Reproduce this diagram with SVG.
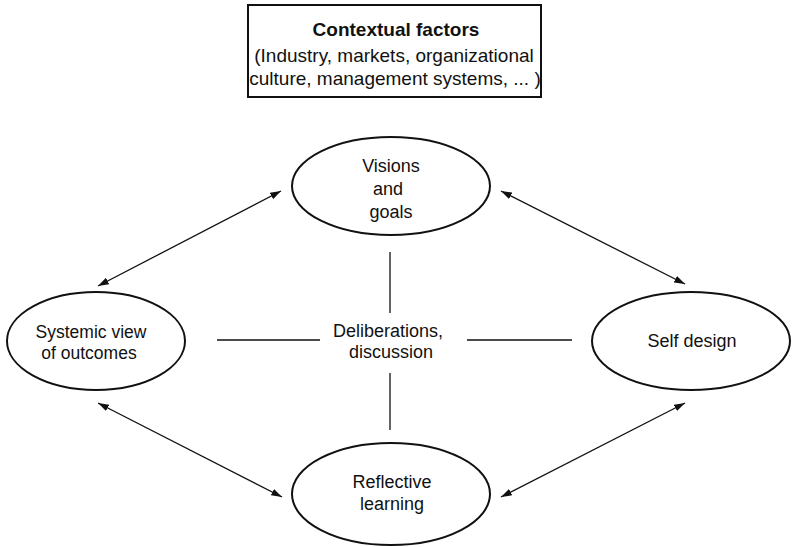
<svg xmlns="http://www.w3.org/2000/svg" width="792" height="547" viewBox="0 0 792 547">
<style>
text{font-family:"Liberation Sans",Arial,sans-serif;font-size:18px;fill:#111;text-anchor:middle}
.b{font-weight:bold}
.h{font-size:19px}
.node ellipse,.node rect{fill:#fff;stroke:#111;stroke-width:2}
.c line{stroke:#111;stroke-width:1.3}
</style>
<defs>
<marker id="ah" viewBox="0 0 12 10" refX="12" refY="5" markerWidth="11" markerHeight="9" markerUnits="userSpaceOnUse" orient="auto-start-reverse">
<path d="M0,1 L12,5 L0,9 Z" fill="#111"/>
</marker>
</defs>
<g id="context" class="node">
<rect x="248" y="5" width="293" height="92" stroke-width="1.5"/>
<text x="396" y="36" class="b h">Contextual factors</text>
<text x="394" y="62" class="h">(Industry, markets, organizational</text>
<text x="395" y="85" class="h">culture, management systems, ... )</text>
</g>
<g class="c" id="connectors">
<line x1="98" y1="286" x2="281" y2="191" marker-start="url(#ah)" marker-end="url(#ah)"/>
<line x1="501" y1="191" x2="685" y2="284" marker-start="url(#ah)" marker-end="url(#ah)"/>
<line x1="98" y1="403" x2="282" y2="497" marker-start="url(#ah)" marker-end="url(#ah)"/>
<line x1="685" y1="403" x2="501" y2="497" marker-start="url(#ah)" marker-end="url(#ah)"/>
<line x1="390" y1="252" x2="390" y2="313"/>
<line x1="390" y1="373" x2="390" y2="430"/>
<line x1="217" y1="340" x2="320" y2="340"/>
<line x1="467" y1="340" x2="572" y2="340"/>
</g>
<g id="visions" class="node">
<ellipse cx="391" cy="186" rx="99" ry="49"/>
<text x="391" y="172">Visions</text>
<text x="388" y="195">and</text>
<text x="391" y="218">goals</text>
</g>
<g id="systemic" class="node">
<ellipse cx="96" cy="341" rx="89" ry="49"/>
<text x="91" y="338" style="font-size:17.5px">Systemic view</text>
<text x="89" y="359" style="font-size:17.5px">of outcomes</text>
</g>
<g id="selfdesign" class="node">
<ellipse cx="691" cy="341" rx="99" ry="49"/>
<text x="692" y="347">Self design</text>
</g>
<g id="reflective" class="node">
<ellipse cx="391" cy="494" rx="99" ry="51"/>
<text x="392" y="488">Reflective</text>
<text x="392" y="510">learning</text>
</g>
<g id="deliberations">
<text x="388" y="337">Deliberations,</text>
<text x="391" y="358">discussion</text>
</g>
</svg>
